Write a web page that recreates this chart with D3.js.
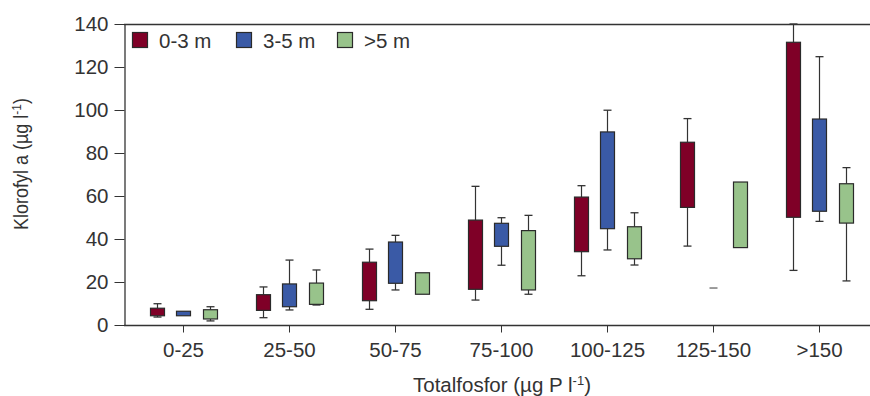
<!DOCTYPE html>
<html><head><meta charset="utf-8">
<script src="https://cdn.jsdelivr.net/npm/d3@7"></script>
<style>
body{margin:0;background:#fff;}
text{font-family:"Liberation Sans",Arial,sans-serif;fill:#333;}
</style></head>
<body><svg id="c" width="870" height="396"></svg>
<script>
const categories = ["0-25","25-50","50-75","75-100","100-125","125-150",">150"];
const seriesNames = ["0-3 m","3-5 m",">5 m"];
const seriesColors = ["#7f0027","#3a5aa6","#98c38b"];
// each entry: [whisker min, box low, box high, whisker max]
const depth0to3 = [[3.7,4.3,7.8,9.9],[3.4,6.8,14.1,17.7],[7.3,11.3,29.2,35.3],[11.6,16.6,48.8,64.5],[22.9,34.1,59.5,64.8],[36.7,54.7,85.0,96.0],[25.4,50.1,131.5,140]];
const depth3to5 = [[4.3,4.3,6.4,6.4],[7.0,8.5,19.1,30.2],[16.3,19.4,38.6,41.7],[27.8,36.6,47.3,49.9],[34.9,44.8,89.8,99.9],[17.2,17.2,17.2,17.2],[48.2,52.9,95.8,124.8]];
const depthOver5 = [[1.9,2.8,7.1,8.5],[9.3,9.6,19.5,25.6],[14.3,14.3,24.3,24.3],[14.3,16.3,43.9,51.0],[27.9,30.8,45.7,52.2],[36.0,36.0,66.5,66.5],[20.5,47.4,65.7,73.2]];
const yTicks = [0,20,40,60,80,100,120,140];
const series = [depth0to3, depth3to5, depthOver5];

const svg = d3.select("#c");
const mLeft = 124, mRight = 870, mTop = 24, mBottom = 325;
const fs = "20.5px";
const y = d3.scaleLinear().domain([0,140]).range([mBottom, mTop]);
const x = d3.scaleBand().domain(categories).range([130, 872]).padding(0);
const offsets = [-26.5, 0, 26.5];
const bw = 14, cap = 8;

// frame lines
svg.append("line").attr("x1",mLeft).attr("x2",mRight).attr("y1",mTop+0.5).attr("y2",mTop+0.5).attr("stroke","#333").attr("stroke-width",1.3);
svg.append("line").attr("x1",mLeft).attr("x2",mRight).attr("y1",mBottom+0.5).attr("y2",mBottom+0.5).attr("stroke","#333").attr("stroke-width",1.3);

// y axis
const ya = svg.append("g").attr("transform",`translate(${mLeft+0.5},0)`)
  .call(d3.axisLeft(y).tickValues(yTicks).tickSize(10).tickSizeOuter(0).tickPadding(6));
ya.select(".domain").attr("stroke","#333").attr("stroke-width",1.3);
ya.selectAll(".tick line").attr("stroke","#333");
ya.selectAll("text").style("font-size",fs).style("fill","#333");

// x axis
const xa = svg.append("g").attr("transform",`translate(0.5,${mBottom+0.5})`)
  .call(d3.axisBottom(x).tickSize(7).tickSizeOuter(0).tickPadding(10));
xa.select(".domain").remove();
xa.selectAll(".tick line").attr("stroke","#333");
xa.selectAll("text").style("font-size",fs).style("fill","#333");

// boxes
series.forEach((data, si) => {
  const g = svg.append("g");
  data.forEach((d, i) => {
    const cx = Math.round(x(categories[i]) + x.bandwidth()/2 + offsets[si]) + 0.5;
    const [mn, lo, hi, mx] = d;
    if (lo === hi) {
      g.append("line").attr("x1",cx-cap/2).attr("x2",cx+cap/2).attr("y1",y(lo)).attr("y2",y(lo)).attr("stroke","#666").attr("stroke-width",1.3);
      return;
    }
    if (mx > hi) {
      g.append("line").attr("x1",cx).attr("x2",cx).attr("y1",y(hi)).attr("y2",y(mx)).attr("stroke","#333").attr("stroke-width",1.2);
      g.append("line").attr("x1",cx-cap/2).attr("x2",cx+cap/2).attr("y1",y(mx)).attr("y2",y(mx)).attr("stroke","#333").attr("stroke-width",1.3);
    }
    if (mn < lo) {
      g.append("line").attr("x1",cx).attr("x2",cx).attr("y1",y(lo)).attr("y2",y(mn)).attr("stroke","#333").attr("stroke-width",1.2);
      g.append("line").attr("x1",cx-cap/2).attr("x2",cx+cap/2).attr("y1",y(mn)).attr("y2",y(mn)).attr("stroke","#333").attr("stroke-width",1.3);
    }
    g.append("rect").attr("x",cx-bw/2).attr("width",bw)
      .attr("y",y(hi)).attr("height",y(lo)-y(hi))
      .attr("fill",seriesColors[si]).attr("stroke","#2a2a2a").attr("stroke-width",1.2);
  });
});

// legend
const lg = svg.append("g");
const legX = [132, 236, 337];
seriesNames.forEach((n, i) => {
  lg.append("rect").attr("x",legX[i]+0.5).attr("y",32.5).attr("width",15).attr("height",15)
    .attr("fill",seriesColors[i]).attr("stroke","#2a2a2a").attr("stroke-width",1.2);
  lg.append("text").attr("x",legX[i]+27).attr("y",47.5).style("font-size",fs).text(n);
});

// axis titles
svg.append("text").attr("x",502).attr("y",392).attr("text-anchor","middle").style("font-size",fs)
  .html('Totalfosfor (µg P l<tspan dy="-7" style="font-size:13px">-1</tspan><tspan dy="7">)</tspan>');
svg.append("text").attr("transform","translate(28,164) scale(1.13,1) rotate(-90)").attr("text-anchor","middle").style("font-size","18px")
  .html('Klorofyl a (µg l<tspan dy="-6" style="font-size:12px">-1</tspan><tspan dy="6">)</tspan>');
</script></body></html>
